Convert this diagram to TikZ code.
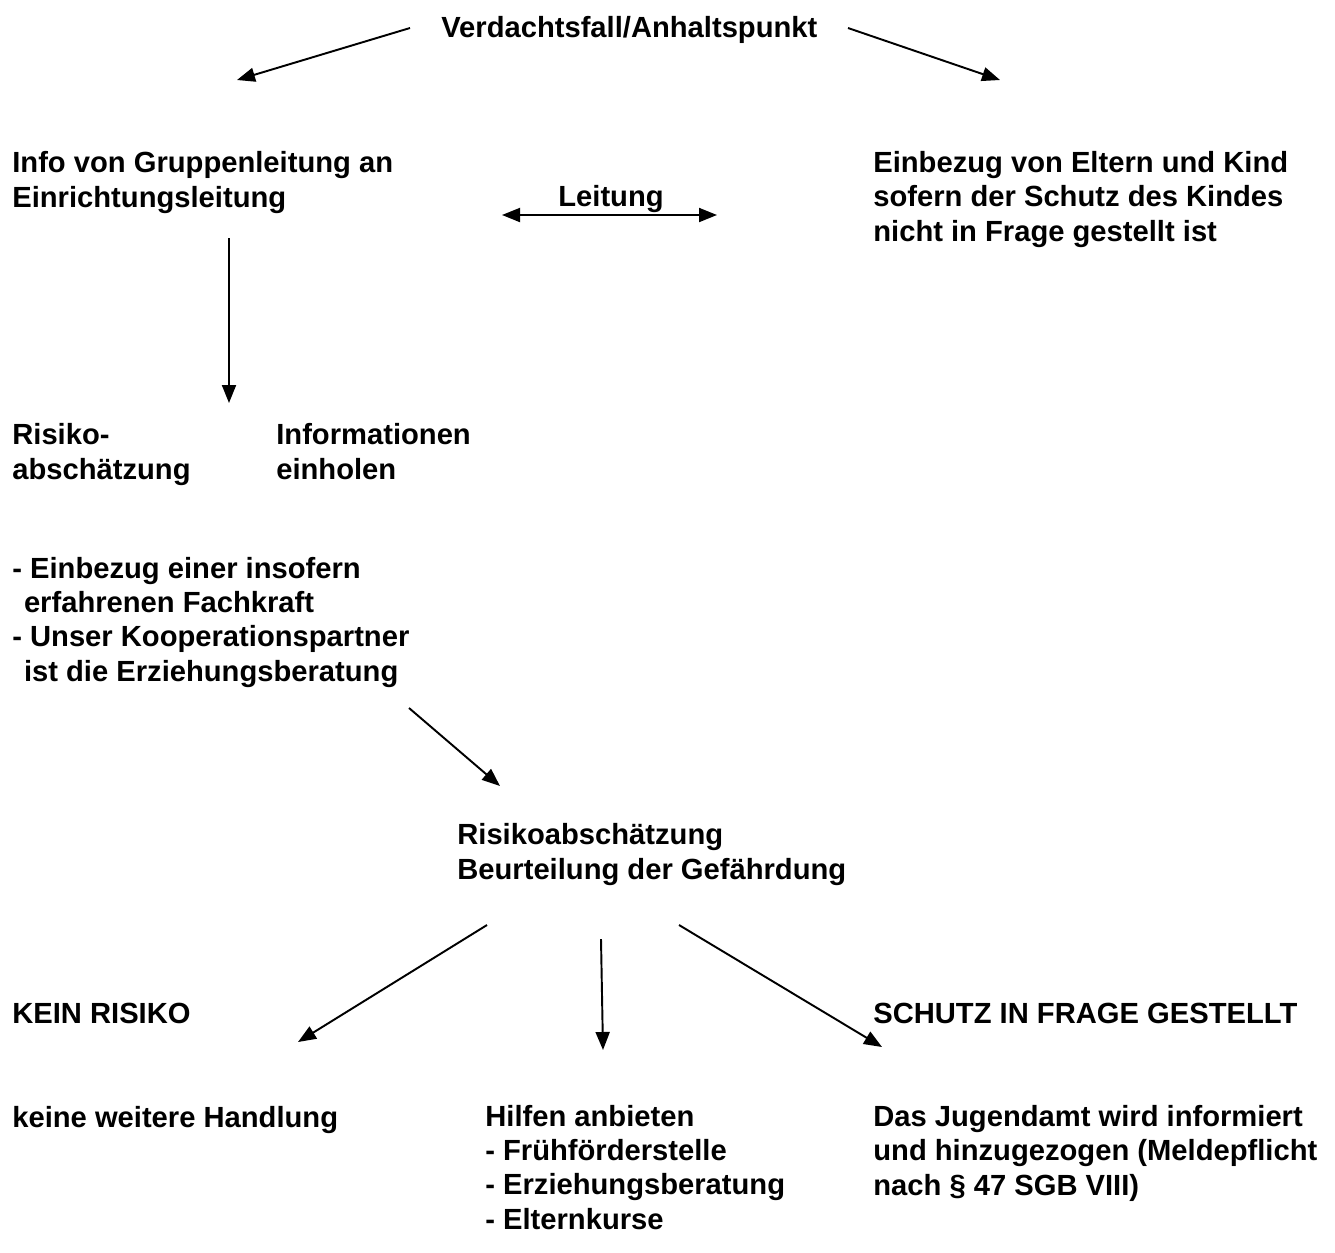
\documentclass[tikz,border=0pt]{standalone}
\usepackage{fontspec}
\setmainfont{Liberation Sans}
\usepackage{tikz}
\usetikzlibrary{arrows.meta}

\begin{document}
\begin{tikzpicture}[
      x=0.02cm, y=-0.02cm,
      txt/.style={inner sep=0, anchor=base west, align=left,
        font={\fontsize{16.6}{19.4}\selectfont\bfseries}},
      arr/.style={draw, line width=1.1pt, -{Triangle[length=0.36cm,width=0.28cm]}},
      darr/.style={arr, {Triangle[length=0.36cm,width=0.28cm]}-{Triangle[length=0.36cm,width=0.28cm]}}
  ]
  \useasboundingbox (0,0) rectangle (1335,1252);
  % text blocks (placed at the baseline of their last line)
  \node[txt] (start) at (441,37) {Verdachtsfall/Anhaltspunkt};
  \node[txt] (info) at (12,207) {Info von Gruppenleitung an\\Einrichtungsleitung};
  \node[txt] (eltern) at (873,241) {Einbezug von Eltern und Kind\\sofern der Schutz des Kindes\\nicht in Frage gestellt ist};
  \node[txt, anchor=base] (leitung) at (611,206) {Leitung};
  \node[txt] (risiko) at (12,479) {Risiko-\\abschätzung};
  \node[txt] (einholen) at (276,479) {Informationen\\einholen};
  \node[txt] (fachkraft) at (12,681) {- Einbezug einer insofern\\\hspace*{0.4em}erfahrenen Fachkraft\\- Unser Kooperationspartner\\\hspace*{0.4em}ist die Erziehungsberatung};
  \node[txt] (beurteilung) at (457,879) {Risikoabschätzung\\Beurteilung der Gefährdung};
  \node[txt] (kein) at (12,1023) {KEIN RISIKO};
  \node[txt] (schutz) at (873,1023) {SCHUTZ IN FRAGE GESTELLT};
  \node[txt] (keine) at (12,1127) {keine weitere Handlung};
  \node[txt] (hilfen) at (485,1229) {Hilfen anbieten\\- Frühförderstelle\\- Erziehungsberatung\\- Elternkurse};
  \node[txt] (jugendamt) at (873,1195) {Das Jugendamt wird informiert\\und hinzugezogen (Meldepflicht\\nach § 47 SGB VIII)};
  % arrow ends
  \coordinate (a1) at (410,28);  \coordinate (b1) at (237,80);
  \coordinate (a2) at (848,28);  \coordinate (b2) at (1000,80);
  \coordinate (a3) at (502,215); \coordinate (b3) at (717,215);
  \coordinate (a4) at (229,238); \coordinate (b4) at (229,403);
  \coordinate (a5) at (409,708); \coordinate (b5) at (500,786);
  \coordinate (a6) at (487,925); \coordinate (b6) at (298,1042);
  \coordinate (a7) at (601,939); \coordinate (b7) at (603,1050);
  \coordinate (a8) at (679,925); \coordinate (b8) at (882,1047);
  % arrows
  \draw[arr] (a1) -- (b1);
  \draw[arr] (a2) -- (b2);
  \draw[darr] (a3) -- (b3);
  \draw[arr] (a4) -- (b4);
  \draw[arr] (a5) -- (b5);
  \draw[arr] (a6) -- (b6);
  \draw[arr] (a7) -- (b7);
  \draw[arr] (a8) -- (b8);
\end{tikzpicture}
\end{document}
